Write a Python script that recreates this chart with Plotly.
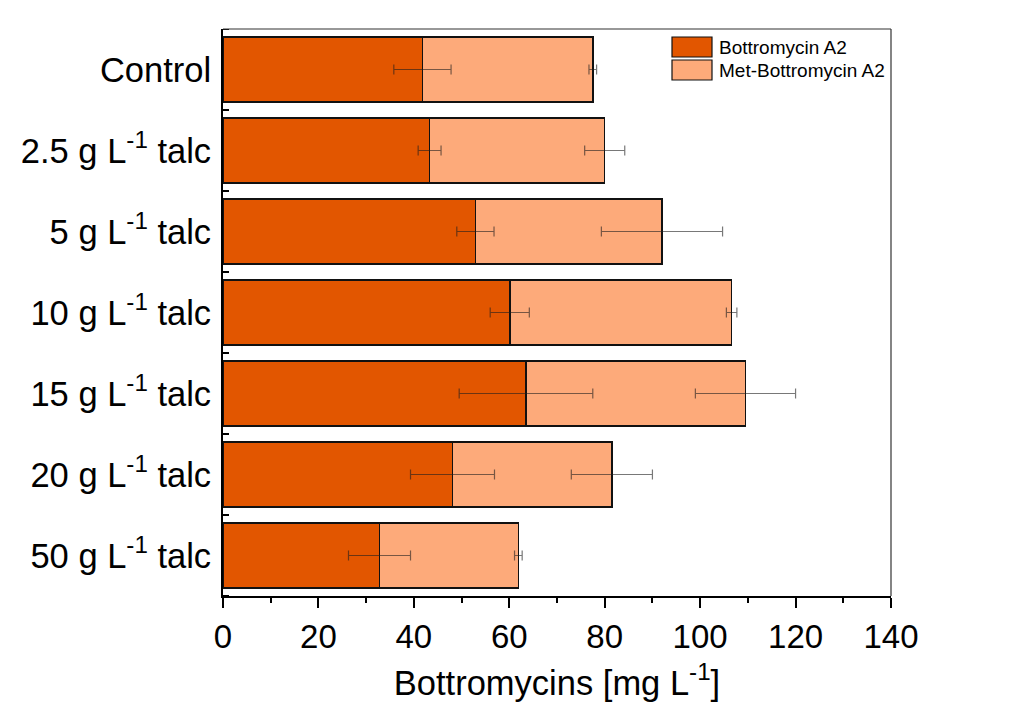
import plotly.graph_objects as go

# Talc concentration groups (top to bottom)
categories = [
    "Control",
    "2.5 g L<sup>-1</sup> talc",
    "5 g L<sup>-1</sup> talc",
    "10 g L<sup>-1</sup> talc",
    "15 g L<sup>-1</sup> talc",
    "20 g L<sup>-1</sup> talc",
    "50 g L<sup>-1</sup> talc",
]

# Titres in mg/L (stacked: Bottromycin A2 + Met-Bottromycin A2)
bottromycin_a2 = [41.8, 43.3, 52.9, 60.1, 63.5, 48.1, 32.8]
bottromycin_a2_err = [6.0, 2.4, 3.9, 4.1, 14.0, 8.8, 6.5]
met_bottromycin_a2 = [35.7, 36.7, 39.1, 46.5, 46.0, 33.4, 29.1]
met_bottromycin_a2_err = [0.8, 4.2, 12.7, 1.1, 10.5, 8.5, 0.8]

x_ticks = [0, 20, 40, 60, 80, 100, 120, 140]

series_names = ["Bottromycin A2", "Met-Bottromycin A2"]
colors = ["#E25600", "#FDAA7A"]

FONT = "Arial, Liberation Sans, sans-serif"

# plot area in pixels
W, H = 1016, 709
L, R, T, B = 223, 891, 29, 596


def px_x(p):
    return (p - L) / (R - L)


def px_y(p):
    return (B - p) / (B - T)


err_style = dict(type="data", thickness=1.2, width=5, color="rgba(30,30,30,0.6)")

fig = go.Figure()
for name, vals, col in [
    (series_names[0], bottromycin_a2, colors[0]),
    (series_names[1], met_bottromycin_a2, colors[1]),
]:
    fig.add_trace(go.Bar(
        y=categories, x=vals, orientation="h", name=name,
        marker=dict(color=col, line=dict(color="#111111", width=1.5)),
        width=0.8, showlegend=False,
    ))

# error bars drawn above both stacked segments, at each segment's end
stack_ends = [
    bottromycin_a2,
    [a + m for a, m in zip(bottromycin_a2, met_bottromycin_a2)],
]
for ends, errs in zip(stack_ends, [bottromycin_a2_err, met_bottromycin_a2_err]):
    fig.add_trace(go.Scatter(
        y=categories, x=ends, mode="markers",
        marker=dict(size=0.1, color="rgba(0,0,0,0)"),
        error_x=dict(array=errs, **err_style),
        showlegend=False, hoverinfo="skip",
    ))

shapes = []
# boundary ticks crossing the left axis
for k in range(len(categories) + 1):
    yb = k - 0.5
    shapes.append(dict(type="line", xref="x", yref="y", xsizemode="pixel", xanchor=0,
                       x0=-5, x1=6, y0=yb, y1=yb, line=dict(color="black", width=2)))
# thin top and right frame
shapes.append(dict(type="line", xref="paper", yref="paper", x0=0, x1=1, y0=1, y1=1,
                   line=dict(color="#333333", width=1.2)))
shapes.append(dict(type="line", xref="paper", yref="paper", x0=1, x1=1, y0=0, y1=1,
                   line=dict(color="#333333", width=1.2)))

# legend swatches and labels
annotations = []
rows = [(37, 57), (60, 80)]
for (y0, y1), name, col in zip(rows, series_names, colors):
    shapes.append(dict(type="rect", xref="paper", yref="paper",
                       x0=px_x(672), x1=px_x(712), y0=px_y(y1), y1=px_y(y0),
                       fillcolor=col, line=dict(color="#111111", width=1.2)))
    annotations.append(dict(xref="paper", yref="paper", x=px_x(717), y=px_y((y0 + y1) / 2),
                            text=name, showarrow=False, xanchor="left", yanchor="middle",
                            font=dict(family=FONT, size=19, color="black")))

fig.update_layout(
    width=W, height=H,
    barmode="stack",
    paper_bgcolor="white", plot_bgcolor="white",
    margin=dict(l=L, r=W - R, t=T, b=H - B, pad=0),
    font=dict(family=FONT, size=33, color="black"),
    shapes=shapes, annotations=annotations,
    showlegend=False,
    xaxis=dict(
        range=[0, 140], tickvals=x_ticks, ticktext=[str(v) for v in x_ticks],
        ticks="outside", ticklen=10, tickwidth=2, tickcolor="black",
        minor=dict(dtick=10, tick0=0, ticks="outside", ticklen=5, tickwidth=2, tickcolor="black"),
        showline=True, linewidth=2, linecolor="black", mirror=False,
        showgrid=False, zeroline=False,
        tickfont=dict(family=FONT, size=33, color="black"),
        title=dict(text="Bottromycins [mg L<sup>-1</sup>]", standoff=17,
                   font=dict(family=FONT, size=34.5, color="black")),
    ),
    yaxis=dict(
        categoryorder="array", categoryarray=categories,
        range=[6.5, -0.5],
        ticks="", showline=True, linewidth=2, linecolor="black", mirror=False,
        showgrid=False, zeroline=False, ticklabelstandoff=3,
        tickfont=dict(family=FONT, size=34.5, color="black"),
    ),
)

fig.write_html("out.html")
